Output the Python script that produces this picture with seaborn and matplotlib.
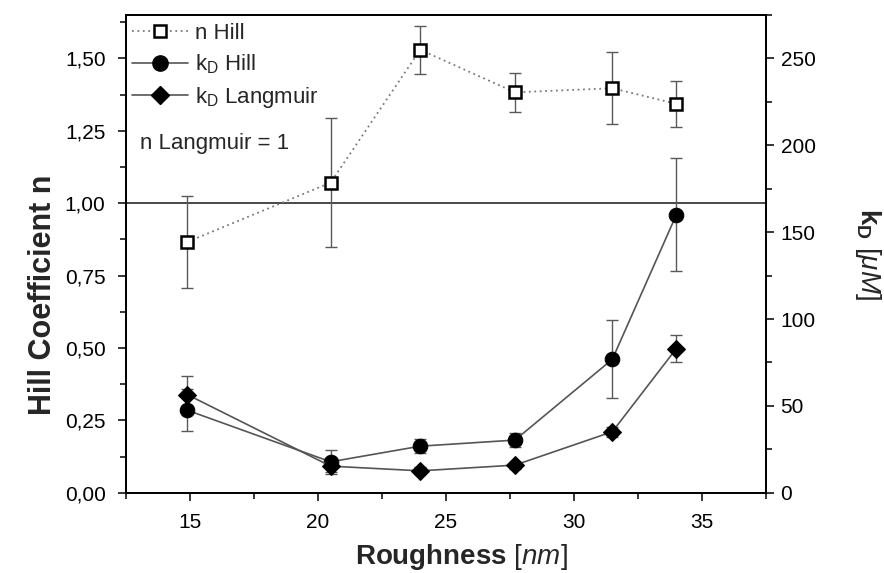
import matplotlib
matplotlib.use("Agg")
import matplotlib.pyplot as plt
from matplotlib.ticker import MultipleLocator, FuncFormatter
from matplotlib.lines import Line2D
import seaborn as sns
import pandas as pd

# Surface roughness of the samples [nm]
roughness = [14.9, 20.5, 24.0, 27.7, 31.5, 34.0]

# Hill coefficient n (left axis)
n_hill = [0.866, 1.071, 1.530, 1.383, 1.397, 1.343]
n_hill_err = [0.158, 0.223, 0.083, 0.068, 0.125, 0.080]

# Dissociation constants kD [uM] (right axis)
kd_hill = [47.5, 17.8, 26.8, 30.3, 76.8, 160.0]
kd_hill_err = [12.0, 6.8, 4.0, 4.0, 22.5, 32.5]
kd_langmuir = [56.5, 15.3, 12.6, 15.9, 35.1, 83.0]
kd_langmuir_err = [10.7, 3.5, 2.0, 2.0, 3.0, 8.0]

legend_labels = ["n Hill", r"k$_\mathregular{D}$ Hill", r"k$_\mathregular{D}$ Langmuir"]

sns.set_theme(style="ticks")
plt.rcParams["font.family"] = ["Liberation Sans", "DejaVu Sans"]
plt.rcParams["mathtext.fontset"] = "custom"
plt.rcParams["mathtext.rm"] = "Liberation Sans"
plt.rcParams["mathtext.it"] = "Liberation Sans:italic"
plt.rcParams["mathtext.bf"] = "Liberation Sans:bold"

df = pd.DataFrame({
    "roughness": roughness,
    "n_hill": n_hill,
    "kd_hill": kd_hill,
    "kd_langmuir": kd_langmuir,
})

fig = plt.figure(figsize=(8.84, 5.73), dpi=100)
ax = fig.add_axes([0.1422, 0.1401, 0.7243, 0.8337])
ax2 = ax.twinx()

line_grey = "#555555"
err_grey = "#5a5a5a"

# Hill coefficient: dotted line with open squares
ax.errorbar(roughness, n_hill, yerr=n_hill_err, fmt="none", ecolor=err_grey,
            elinewidth=1.0, capsize=4.5, capthick=1.0, zorder=2)
sns.lineplot(data=df, x="roughness", y="n_hill", ax=ax, estimator=None,
             color="#7a7a7a", linestyle=(0, (1, 2)), linewidth=1.3,
             marker="s", markersize=8, markerfacecolor="white",
             markeredgecolor="black", markeredgewidth=1.8, zorder=3)
ax.axhline(1.0, color="#3a3a3a", linewidth=1.3, zorder=1)

# kD values on the secondary axis
ax2.errorbar(roughness, kd_hill, yerr=kd_hill_err, fmt="none", ecolor=err_grey,
             elinewidth=1.0, capsize=4.5, capthick=1.0, zorder=2)
ax2.errorbar(roughness, kd_langmuir, yerr=kd_langmuir_err, fmt="none", ecolor=err_grey,
             elinewidth=1.0, capsize=4.5, capthick=1.0, zorder=2)
sns.lineplot(data=df, x="roughness", y="kd_hill", ax=ax2, estimator=None,
             color=line_grey, linewidth=1.2, marker="o", markersize=10.5,
             markerfacecolor="black", markeredgecolor="black", zorder=3)
sns.lineplot(data=df, x="roughness", y="kd_langmuir", ax=ax2, estimator=None,
             color=line_grey, linewidth=1.2, marker="D", markersize=9,
             markerfacecolor="black", markeredgecolor="black", zorder=3)

# Axis limits and ticks
ax.set_xlim(12.5, 37.5)
ax.set_ylim(0, 1.65)
ax2.set_ylim(0, 275)
ax.xaxis.set_major_locator(MultipleLocator(5))
ax.xaxis.set_minor_locator(MultipleLocator(2.5))
ax.yaxis.set_major_locator(MultipleLocator(0.25))
ax.yaxis.set_minor_locator(MultipleLocator(0.125))
ax.yaxis.set_major_formatter(FuncFormatter(lambda v, p: f"{v:.2f}".replace(".", ",")))
ax2.yaxis.set_major_locator(MultipleLocator(50))
ax2.yaxis.set_minor_locator(MultipleLocator(25))

for a in (ax, ax2):
    for s in a.spines.values():
        s.set_visible(True)
        s.set_linewidth(1.3)
        s.set_color("black")
    a.tick_params(which="major", direction="out", length=5.5, width=1.1,
                  color="black", labelsize=15, labelcolor="black", pad=4)
    a.tick_params(which="minor", direction="out", length=4, width=1.1, color="black")
    a.grid(False)
ax.tick_params(axis="x", which="both", top=False, pad=9)
ax.tick_params(axis="y", which="both", right=False, pad=9)
ax2.tick_params(axis="y", which="both", left=False, right=True, pad=5)

ax.set_xlabel(r"$\mathbf{Roughness}$ $\mathit{[nm]}$", fontsize=20)
ax.xaxis.set_label_coords(0.525, -0.104)
ax.set_ylabel("Hill Coefficient n", fontsize=22, fontweight="bold")
ax.yaxis.set_label_coords(-0.106, 0.414)
ax2.set_ylabel(r"$\mathbf{k}_\mathbf{D}$ $\mathit{[\mu M]}$", fontsize=20,
               rotation=270, va="center")
ax2.yaxis.set_label_coords(1.16, 0.5)

# Legend
handles = [
    Line2D([], [], color="#7a7a7a", linestyle=(0, (1, 2)), linewidth=1.3, marker="s",
           markersize=9, markerfacecolor="white", markeredgecolor="black", markeredgewidth=1.8),
    Line2D([], [], color=line_grey, linewidth=1.2, marker="o", markersize=11,
           markerfacecolor="black", markeredgecolor="black"),
    Line2D([], [], color=line_grey, linewidth=1.2, marker="D", markersize=9.5,
           markerfacecolor="black", markeredgecolor="black"),
]
leg = ax2.legend(handles, legend_labels, loc="upper left", bbox_to_anchor=(0.01, 0.984),
                 frameon=False, fontsize=16, handlelength=2.5, handletextpad=0.35,
                 borderpad=0, borderaxespad=0, labelspacing=0.4)
ax2.text(0.022, 0.732, "n Langmuir = 1", transform=ax2.transAxes, fontsize=16,
         va="center", ha="left")

fig.savefig("out.png", dpi=100, facecolor="white")
